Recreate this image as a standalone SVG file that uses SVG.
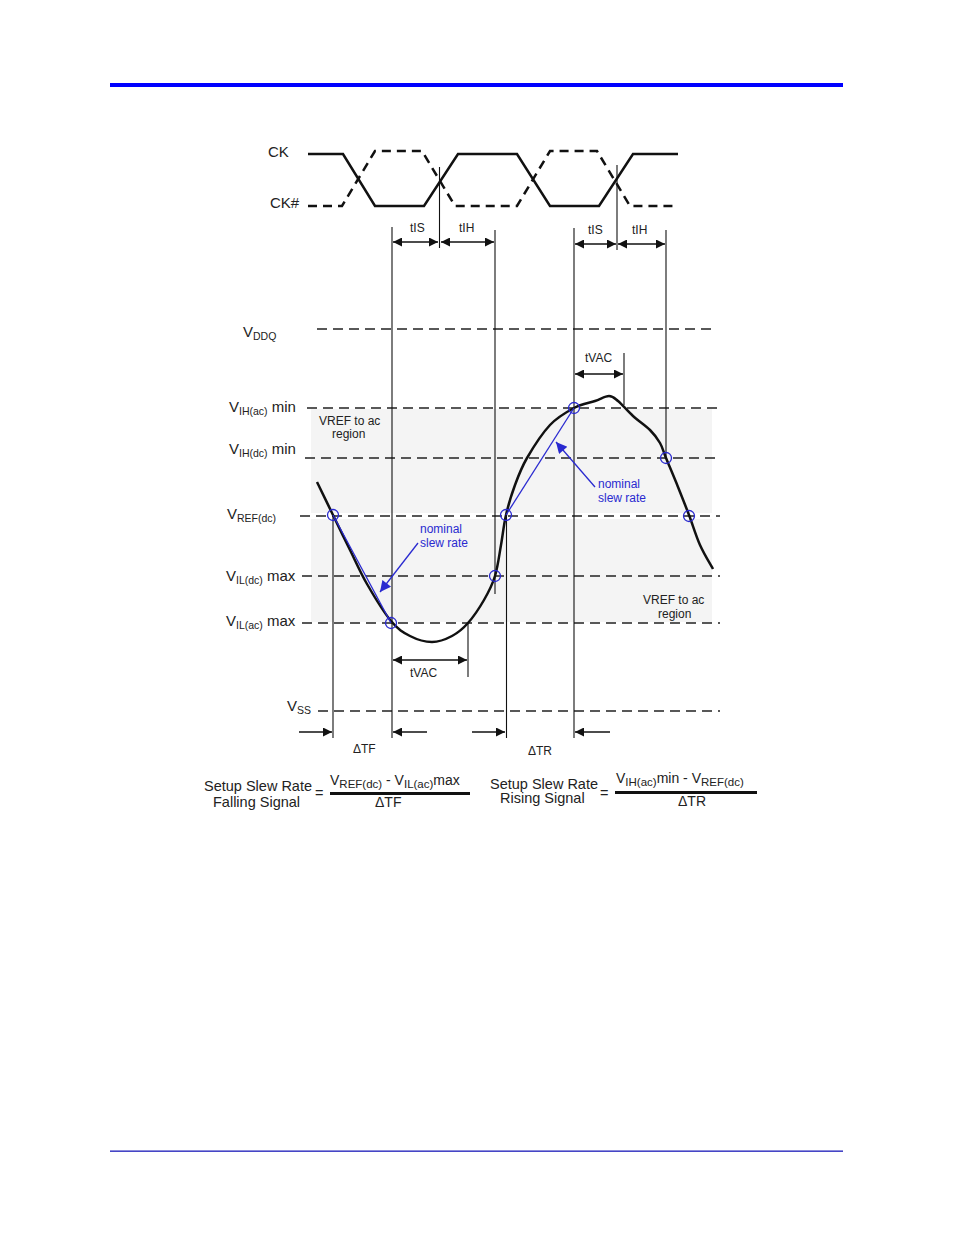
<svg xmlns="http://www.w3.org/2000/svg" width="954" height="1235" viewBox="0 0 954 1235">
<style>
text{font-family:"Liberation Sans",Arial,sans-serif;fill:#222}
.lab{font-size:15px}
.sub{font-size:10.5px}
.nsub{font-size:11.5px}
.sm{font-size:12px}
.blue{fill:#2a2ad0;font-size:12px}
.eq{font-size:14.5px}
.num{font-size:14px}
.dash{stroke:#222;stroke-width:1.3;stroke-dasharray:10 6;fill:none}
.vl{stroke:#111;stroke-width:1.1;fill:none}
.arr{stroke:#111;stroke-width:1.3;fill:none}
.bl{stroke:#2a2ad0;stroke-width:1.3;fill:none}
.cir{stroke:#2a2ad0;stroke-width:1.3;fill:none}
</style>
<defs>
<marker id="ah" viewBox="0 0 10 10" refX="10" refY="5" markerWidth="10" markerHeight="9" markerUnits="userSpaceOnUse" orient="auto-start-reverse"><path d="M0,0 L10,5 L0,10 z" fill="#111"/></marker>
<marker id="bah" viewBox="0 0 10 10" refX="10" refY="5" markerWidth="14" markerHeight="11" markerUnits="userSpaceOnUse" orient="auto"><path d="M0,0 L10,5 L0,10 z" fill="#2a2ad0"/></marker>
</defs>
<g id="frame">
<rect x="110" y="83" width="733" height="4" fill="#0000ff"/>
<rect x="110" y="1150.5" width="733" height="1.3" fill="#1a1ab8"/>
</g>
<g id="regions">
<rect x="311" y="409" width="401" height="104" fill="#f4f4f4"/>
<rect x="311" y="519" width="401" height="103" fill="#f4f4f4"/>
</g>
<g id="clock">
<text class="lab" x="268" y="157">CK</text>
<text class="lab" x="270" y="208">CK#</text>
<path d="M308,154 L343,154 L375,206 L424,206 L458,154 L517,154 L550,206 L599,206 L633,154 L678,154" stroke="#111" stroke-width="2.5" fill="none"/>
<path d="M308,206 L342,206 L375,151 L422,151 L455,206 L517,206 L550,151 L597,151 L630,206 L678,206" stroke="#111" stroke-width="2.5" fill="none" stroke-dasharray="9 6"/>
</g>
<g id="levels">
<line class="dash" x1="317" y1="329" x2="714" y2="329"/>
<line class="dash" x1="307" y1="408" x2="720" y2="408"/>
<line class="dash" x1="305" y1="458" x2="720" y2="458"/>
<line class="dash" x1="300" y1="516" x2="720" y2="516"/>
<line class="dash" x1="302" y1="576" x2="720" y2="576"/>
<line class="dash" x1="302" y1="623" x2="720" y2="623"/>
<line class="dash" x1="318" y1="711" x2="720" y2="711"/>
<text class="lab" x="243" y="337">V<tspan class="sub" dy="3">DDQ</tspan></text>
<text class="lab" x="229" y="412">V<tspan class="sub" dy="3">IH(ac)</tspan><tspan dy="-3"> min</tspan></text>
<text class="lab" x="229" y="454">V<tspan class="sub" dy="3">IH(dc)</tspan><tspan dy="-3"> min</tspan></text>
<text class="lab" x="227" y="519">V<tspan class="sub" dy="3">REF(dc)</tspan></text>
<text class="lab" x="226" y="581">V<tspan class="sub" dy="3">IL(dc)</tspan><tspan dy="-3"> max</tspan></text>
<text class="lab" x="226" y="626">V<tspan class="sub" dy="3">IL(ac)</tspan><tspan dy="-3"> max</tspan></text>
<text class="lab" x="287" y="711">V<tspan class="sub" dy="3">SS</tspan></text>
<text class="sm" x="319" y="425">VREF to ac</text>
<text class="sm" x="332" y="438">region</text>
<text class="sm" x="643" y="604">VREF to ac</text>
<text class="sm" x="658" y="618">region</text>
</g>
<g id="connectors">
<line class="vl" x1="392" y1="227" x2="392" y2="738"/>
<line class="vl" x1="439.5" y1="167" x2="439.5" y2="248"/>
<line class="vl" x1="495" y1="230" x2="495" y2="594"/>
<line class="vl" x1="574" y1="228" x2="574" y2="738"/>
<line class="vl" x1="617" y1="165" x2="617" y2="250"/>
<line class="vl" x1="666" y1="230" x2="666" y2="458"/>
<line class="vl" x1="333" y1="515" x2="333" y2="738"/>
<line class="vl" x1="506.5" y1="515" x2="506.5" y2="738"/>
<line class="vl" x1="624" y1="353" x2="624" y2="405"/>
<line class="vl" x1="468" y1="623" x2="468" y2="677"/>
<line class="arr" x1="393" y1="242" x2="438" y2="242" marker-start="url(#ah)" marker-end="url(#ah)"/>
<line class="arr" x1="441" y1="242" x2="494" y2="242" marker-start="url(#ah)" marker-end="url(#ah)"/>
<line class="arr" x1="575" y1="244" x2="616" y2="244" marker-start="url(#ah)" marker-end="url(#ah)"/>
<line class="arr" x1="618" y1="244" x2="665" y2="244" marker-start="url(#ah)" marker-end="url(#ah)"/>
<line class="arr" x1="575" y1="374" x2="623" y2="374" marker-start="url(#ah)" marker-end="url(#ah)"/>
<line class="arr" x1="393" y1="660" x2="467" y2="660" marker-start="url(#ah)" marker-end="url(#ah)"/>
<line class="arr" x1="299" y1="732" x2="332" y2="732" marker-end="url(#ah)"/>
<line class="arr" x1="427" y1="732" x2="393" y2="732" marker-end="url(#ah)"/>
<line class="arr" x1="472" y1="732" x2="505" y2="732" marker-end="url(#ah)"/>
<line class="arr" x1="610" y1="732" x2="575" y2="732" marker-end="url(#ah)"/>
<text class="sm" x="410" y="232">tIS</text>
<text class="sm" x="459" y="232">tIH</text>
<text class="sm" x="588" y="234">tIS</text>
<text class="sm" x="632" y="234">tIH</text>
<text class="sm" x="585" y="362">tVAC</text>
<text class="sm" x="410" y="677">tVAC</text>
<text class="sm" x="353" y="753">ΔTF</text>
<text class="sm" x="528" y="755">ΔTR</text>
</g>
<g id="waveform">
<path d="M317,482 C319.7,487.5 327.5,503.7 333,515 C338.5,526.3 344.3,538.5 350,550 C355.7,561.5 360.2,572.2 367,584 C373.8,595.8 383.8,612.3 391,621 C398.2,629.7 403.2,632.5 410,636 C416.8,639.5 425,642 432,642 C439,642 446,639.2 452,636 C458,632.8 462.7,629 468,623 C473.3,617 479.5,607.8 484,600 C488.5,592.2 492.2,585.2 495,576 C497.8,566.8 499.2,555.2 501,545 C502.8,534.8 503.7,525 506,515 C508.3,505 511.5,494.5 515,485 C518.5,475.5 521.2,468 527,458 C532.8,448 542.2,433.3 550,425 C557.8,416.7 566.5,412 574,408 C581.5,404 589.2,403 595,401 C600.8,399 605.2,396 609,396 C612.8,396 614,397.7 618,401 C622,404.3 627.7,411.2 633,416 C638.3,420.8 645.5,425.5 650,430 C654.5,434.5 657.3,438.3 660,443 C662.7,447.7 663,450.7 666,458 C669,465.3 674.2,477.5 678,487 C681.8,496.5 685.3,505.3 689,515 C692.7,524.7 696,536 700,545 C704,554 710.8,565 713,569" stroke="#111" stroke-width="2.5" fill="none"/>
</g>
<g id="slew">
<line class="bl" x1="333" y1="515" x2="391" y2="623"/>
<line class="bl" x1="506" y1="515" x2="574" y2="408"/>
<line class="bl" x1="418" y1="543" x2="380" y2="592" marker-end="url(#bah)"/>
<line class="bl" x1="595" y1="487" x2="556" y2="442" marker-end="url(#bah)"/>
<circle class="cir" cx="333" cy="515" r="5.5"/>
<circle class="cir" cx="391" cy="623" r="5.5"/>
<circle class="cir" cx="495" cy="576" r="5.5"/>
<circle class="cir" cx="506" cy="515" r="5.5"/>
<circle class="cir" cx="574" cy="408" r="5.5"/>
<circle class="cir" cx="666" cy="458" r="5.5"/>
<circle class="cir" cx="689" cy="516" r="5.5"/>
<text class="blue" x="420" y="533">nominal</text>
<text class="blue" x="420" y="547">slew rate</text>
<text class="blue" x="598" y="488">nominal</text>
<text class="blue" x="598" y="502">slew rate</text>
</g>
<g id="formula-falling">
<text class="eq" x="204" y="791">Setup Slew Rate</text>
<text class="eq" x="213" y="807">Falling Signal</text>
<text class="eq" x="315" y="798">=</text>
<text class="num" x="330" y="785">V<tspan class="nsub" dy="3">REF(dc)</tspan><tspan dy="-3"> - V</tspan><tspan class="nsub" dy="3">IL(ac)</tspan><tspan dy="-3">max</tspan></text>
<rect x="330" y="792" width="140" height="3" fill="#111"/>
<text class="num" x="375" y="807">ΔTF</text>
</g>
<g id="formula-rising">
<text class="eq" x="490" y="789">Setup Slew Rate</text>
<text class="eq" x="500" y="803">Rising Signal</text>
<text class="eq" x="600" y="798">=</text>
<text class="num" x="616" y="783">V<tspan class="nsub" dy="3">IH(ac)</tspan><tspan dy="-3">min - V</tspan><tspan class="nsub" dy="3">REF(dc)</tspan></text>
<rect x="615" y="791" width="142" height="3" fill="#111"/>
<text class="num" x="678" y="806">ΔTR</text>
</g>
</svg>
